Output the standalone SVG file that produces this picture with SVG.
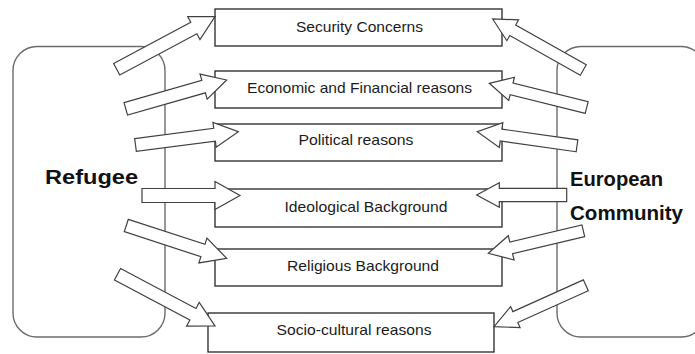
<svg xmlns="http://www.w3.org/2000/svg" width="695" height="354" viewBox="0 0 695 354">
<style>
.actor{fill:#fff;stroke:#6b6b6b;stroke-width:1.4}
.box{fill:#fff;stroke:#262626;stroke-width:1.3}
.lbl{font-family:"Liberation Sans",Arial,sans-serif;font-size:15px;fill:#1c1c1c;text-anchor:middle}
.big{font-family:"Liberation Sans",Arial,sans-serif;font-size:20px;font-weight:bold;fill:#111}
.arr{fill:#fff;stroke:#404040;stroke-width:1.2;stroke-linejoin:miter}
</style>
<rect width="695" height="354" fill="#fff"/>
<g id="refugee">
<rect class="actor" x="13" y="46.5" width="152" height="290.5" rx="24" ry="24"/>
</g>
<g id="european-community">
<rect class="actor" x="557" y="46.5" width="148" height="290.5" rx="24" ry="24"/>
</g>
<g id="security-concerns"><rect class="box" x="215" y="9" width="287" height="37"/></g>
<g id="economic-financial"><rect class="box" x="215" y="71" width="287" height="37"/></g>
<g id="political"><rect class="box" x="215" y="124" width="287" height="37"/></g>
<g id="ideological"><rect class="box" x="215" y="189" width="287" height="38"/></g>
<g id="religious"><rect class="box" x="215" y="249" width="287" height="37"/></g>
<g id="socio-cultural"><rect class="box" x="208" y="313" width="286" height="39"/></g>
<g id="connectors">
<polygon class="arr" transform="translate(116.7,69.3) rotate(-28.15)" points="0,-6.5 87.5,-6.5 87.5,-13 111.5,0 87.5,13 87.5,6.5 0,6.5"/>
<polygon class="arr" transform="translate(125.8,108.8) rotate(-15.93)" points="0,-6.5 80.9,-6.5 80.9,-13 104.9,0 80.9,13 80.9,6.5 0,6.5"/>
<polygon class="arr" transform="translate(135.5,145) rotate(-7.37)" points="0,-6.5 79.7,-6.5 79.7,-12.5 103.7,0 79.7,12.5 79.7,6.5 0,6.5"/>
<polygon class="arr" transform="translate(142,195.5)" points="0,-7 73,-7 73,-14 98,0 73,14 73,7 0,7"/>
<polygon class="arr" transform="translate(126.3,225.5) rotate(18.09)" points="0,-6.5 80.6,-6.5 80.6,-13 105.6,0 80.6,13 80.6,6.5 0,6.5"/>
<polygon class="arr" transform="translate(117.5,274.2) rotate(27.98)" points="0,-6.5 85.4,-6.5 85.4,-13.5 110.4,0 85.4,13.5 85.4,6.5 0,6.5"/>
<polygon class="arr" transform="translate(583.3,70) rotate(-150.62)" points="0,-6 81,-6 81,-12 104,0 81,12 81,6 0,6"/>
<polygon class="arr" transform="translate(586.7,107.5) rotate(-166.05)" points="0,-6 77.4,-6 77.4,-12 100.4,0 77.4,12 77.4,6 0,6"/>
<polygon class="arr" transform="translate(577,145.8) rotate(-171.95)" points="0,-6 76.7,-6 76.7,-12.5 100.7,0 76.7,12.5 76.7,6 0,6"/>
<polygon class="arr" transform="translate(566.7,195) rotate(180)" points="0,-6.7 67.4,-6.7 67.4,-12.3 90,0 67.4,12.3 67.4,6.7 0,6.7"/>
<polygon class="arr" transform="translate(583.3,230.8) rotate(166.68)" points="0,-6 74.1,-6 74.1,-12.5 97.6,0 74.1,12.5 74.1,6 0,6"/>
<polygon class="arr" transform="translate(585.8,285.3) rotate(155.72)" points="0,-6 77.3,-6 77.3,-11.5 100.7,0 77.3,11.5 77.3,6 0,6"/>
</g>
<g id="labels">
<text class="lbl" x="359.5" y="31.5" textLength="127" lengthAdjust="spacingAndGlyphs">Security Concerns</text>
<text class="lbl" x="359.5" y="92.7" textLength="225" lengthAdjust="spacingAndGlyphs">Economic and Financial reasons</text>
<text class="lbl" x="356" y="145" textLength="115" lengthAdjust="spacingAndGlyphs">Political reasons</text>
<text class="lbl" x="366" y="211.7" textLength="163" lengthAdjust="spacingAndGlyphs">Ideological Background</text>
<text class="lbl" x="363" y="270.7" textLength="152" lengthAdjust="spacingAndGlyphs">Religious Background</text>
<text class="lbl" x="354" y="335" textLength="155" lengthAdjust="spacingAndGlyphs">Socio-cultural reasons</text>
<text class="big" x="45" y="184" font-size="21" textLength="93" lengthAdjust="spacingAndGlyphs">Refugee</text>
<text class="big" x="570" y="185.5" textLength="93" lengthAdjust="spacingAndGlyphs">European</text>
<text class="big" x="570" y="220" textLength="113" lengthAdjust="spacingAndGlyphs">Community</text>
</g>
</svg>
